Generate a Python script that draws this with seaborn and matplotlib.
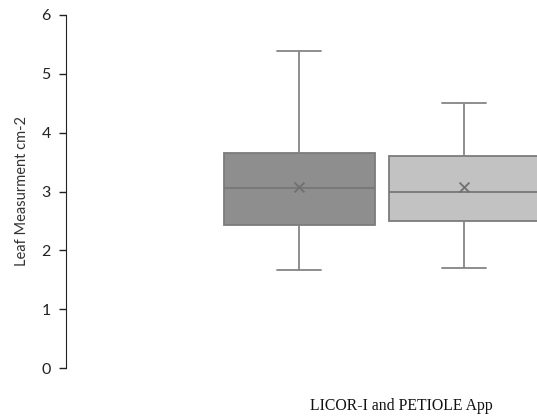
import pandas as pd
import seaborn as sns
import matplotlib.pyplot as plt

# five-number summaries (min, q1, median, q3, max)
series = ['LICOR-I', 'PETIOLE App']
licor = [1.67, 2.43, 3.06, 3.66, 5.38]
petiole = [1.70, 2.50, 3.00, 3.61, 4.51]
means = [3.08, 3.07]
colors = ['#8e8e8e', '#c2c2c2']

df = pd.DataFrame({
    'series': [series[0]] * len(licor) + [series[1]] * len(petiole),
    'value': licor + petiole,
})
mean_df = pd.DataFrame({'series': series, 'value': means})

sns.set_style('white')
plt.rcParams['font.family'] = ['Lato', 'DejaVu Sans']

fig = plt.figure(figsize=(5.37, 4.18), dpi=100)
ax = fig.add_axes([66 / 537, 50 / 418, 1 - 66 / 537, 353 / 418])

line = dict(color='#858585', linewidth=1.3)
sns.boxplot(data=df, x='series', y='value', hue='series', order=series,
            hue_order=series, palette=colors, legend=False, width=0.915,
            whis=(0, 100), linecolor='#7c7c7c', linewidth=1.3,
            capwidths=0.27, whiskerprops=line, capprops=line,
            medianprops=dict(color='#777777', linewidth=1.3), ax=ax)
sns.scatterplot(data=mean_df, x='series', y='value', marker='x', s=50,
                color='#707070', linewidth=1.3, legend=False, zorder=10, ax=ax)

ax.set_ylim(0, 6)
ax.set_xlim(-1.412, 1.442)
ax.set_xticks([])
ax.set_yticks(range(0, 7))
ax.tick_params(axis='y', direction='out', length=5, width=1, colors='#222222',
               labelsize=11.5, left=True, pad=6)
for s in ['top', 'right', 'bottom']:
    ax.spines[s].set_visible(False)
ax.spines['left'].set_color('#222222')
ax.set_ylabel('Leaf Measurment cm-2', fontsize=10.5, color='#333333', labelpad=9)
ax.set_xlabel('LICOR-I and PETIOLE App', fontsize=11.3,
              family='Liberation Serif', color='#111111')
ax.xaxis.set_label_coords((401 - 66) / 471, -0.085)

fig.savefig('out.png', dpi=100)
